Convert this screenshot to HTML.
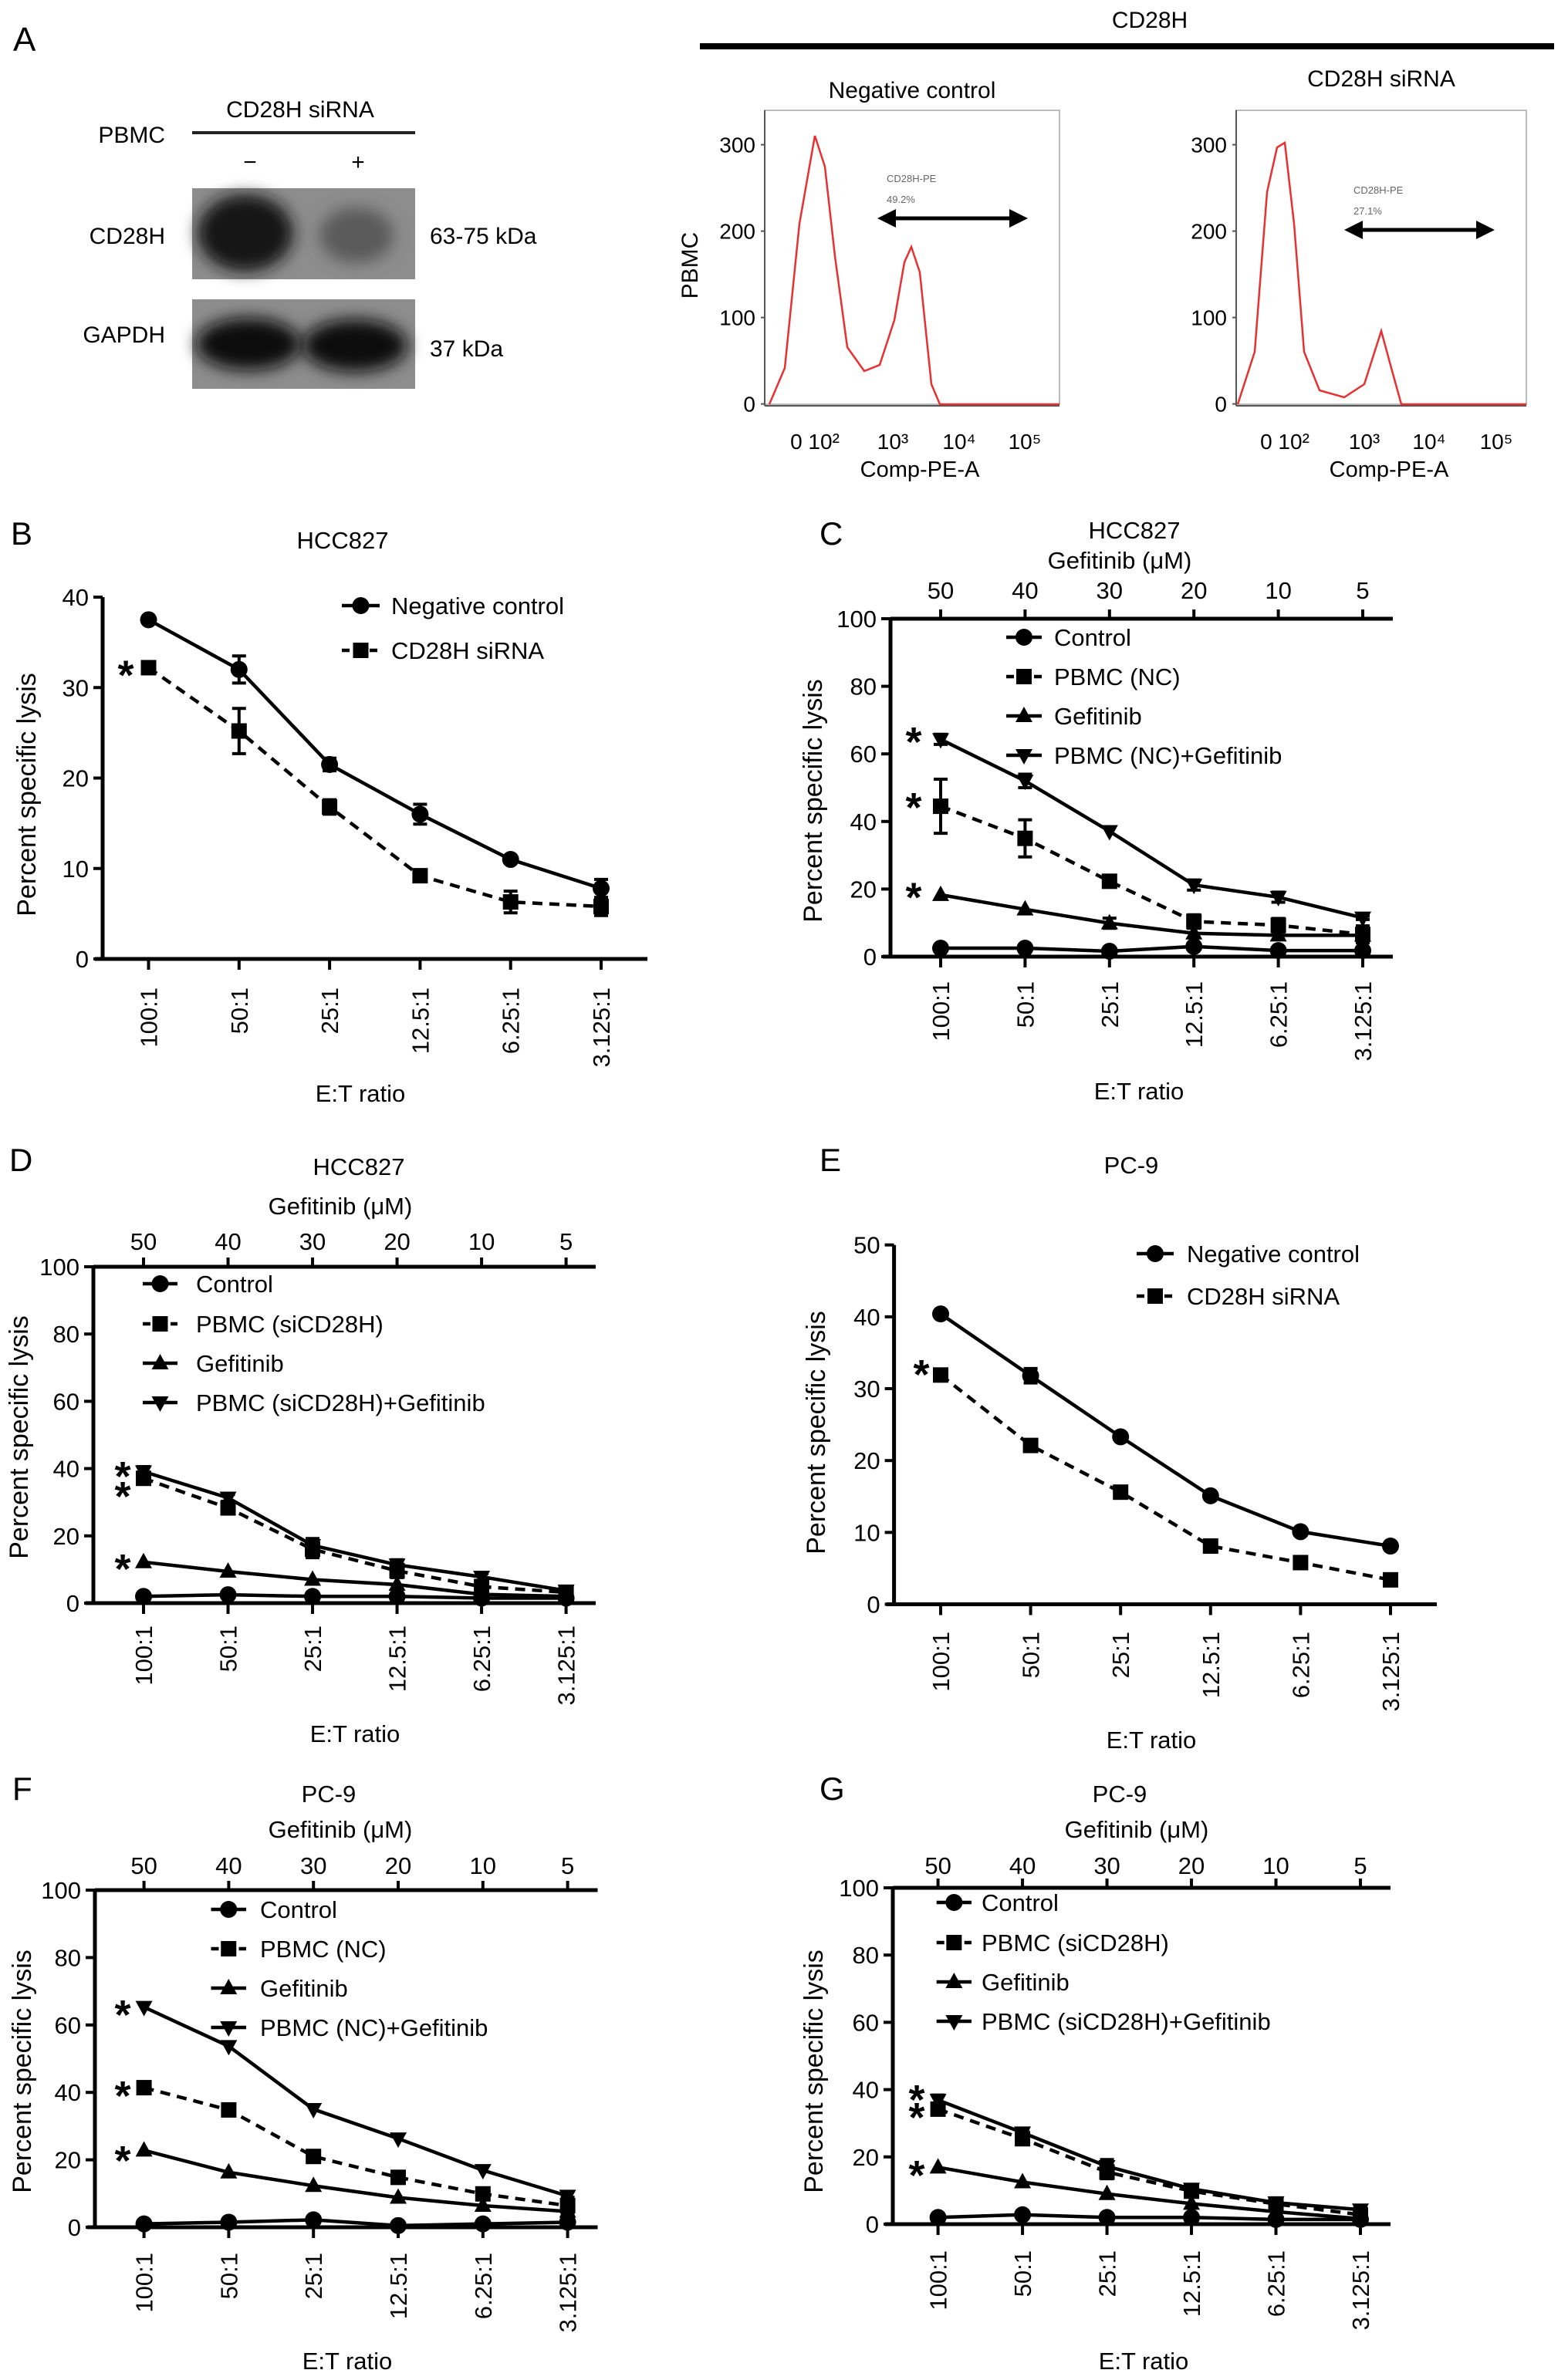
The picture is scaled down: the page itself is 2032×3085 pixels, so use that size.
<!DOCTYPE html>
<html><head><meta charset="utf-8">
<style>
html,body{margin:0;padding:0;background:#fff;}
svg{display:block;font-family:"Liberation Sans",sans-serif;}
</style></head>
<body>
<svg id="fig" xmlns="http://www.w3.org/2000/svg" width="2032" height="3085" viewBox="0 0 2032 3085">
<defs><filter id="blur" x="-50%" y="-50%" width="200%" height="200%"><feGaussianBlur stdDeviation="10"/></filter></defs>
<rect width="2032" height="3085" fill="#fff"/>
<!-- Panel A -->
<g>
<text x="17" y="66" font-size="44">A</text>
<text x="1490" y="36" font-size="30" text-anchor="middle">CD28H</text>
<rect x="907" y="56" width="1107" height="8" fill="#000"/>
<text x="389" y="152" font-size="30" text-anchor="middle">CD28H siRNA</text>
<line x1="249" y1="172" x2="538" y2="172" stroke="#222" stroke-width="4"/>
<text x="214" y="185" font-size="30" text-anchor="end">PBMC</text>
<text x="324" y="220" font-size="30" text-anchor="middle">−</text>
<text x="464" y="220" font-size="30" text-anchor="middle">+</text>
<g>
<rect x="249" y="244" width="289" height="118" fill="#8d8d8d"/>
<ellipse cx="318" cy="302" rx="62" ry="50" fill="#151515" filter="url(#blur)"/>
<ellipse cx="462" cy="305" rx="48" ry="36" fill="#5a5a5a" filter="url(#blur)"/>
</g>
<g>
<rect x="249" y="388" width="289" height="116" fill="#8d8d8d"/>
<ellipse cx="322" cy="446" rx="68" ry="34" fill="#111" filter="url(#blur)"/>
<ellipse cx="460" cy="448" rx="68" ry="34" fill="#111" filter="url(#blur)"/>
</g>
<text x="214" y="316" font-size="30" text-anchor="end">CD28H</text>
<text x="214" y="444" font-size="30" text-anchor="end">GAPDH</text>
<text x="557" y="316" font-size="30">63-75 kDa</text>
<text x="557" y="462" font-size="30">37 kDa</text>
</g>
<g id="flow"></g>
<g id="charts"></g>
</svg>
<script>
const NS='http://www.w3.org/2000/svg';
const svg=document.getElementById('fig');
function mk(tag,attrs,parent,txt){const e=document.createElementNS(NS,tag);for(const k in attrs)e.setAttribute(k,attrs[k]);if(txt!==undefined)e.textContent=txt;(parent||svg).appendChild(e);return e;}

// ---------- Flow cytometry (A) ----------
const flowYTicks=[0,100,200,300];
const flowXTicks=['0 10²','10³','10⁴','10⁵'];
const flowNC=[[997,524],[1017,477],[1036,290],[1056,176],[1069,216],[1082,332],[1098,450],[1120,481],[1140,473],[1159,415],[1172,340],[1181,320],[1192,353],[1207,498],[1218,524],[1373,524]];
const flowSi=[[1604,524],[1626,456],[1642,249],[1655,191],[1665,185],[1677,290],[1690,456],[1710,506],[1742,515],[1768,498],[1790,429],[1803,477],[1816,524],[1978,524]];
function flowPlot(name,x0,x1,title,titleY,xlabX,pts,arrX0,arrX1,arrY,pct,txtY){
  const g=mk('g',{},document.getElementById('flow'));
  
  
  mk('rect',{x:x0,y:143,width:x1-x0,height:381,fill:'none',stroke:'#bbb','stroke-width':2},g);
  mk('line',{x1:x0,y1:143,x2:x0,y2:526,stroke:'#555','stroke-width':2},g);
  mk('line',{x1:x0,y1:526,x2:x1,y2:526,stroke:'#555','stroke-width':2},g);
  flowYTicks.forEach(v=>{const y=523.6-v*1.12;mk('line',{x1:x0-5,y1:y,x2:x0,y2:y,stroke:'#555','stroke-width':2},g);mk('text',{x:x0-12,y:y+10,'font-size':28,'text-anchor':'end'},g,String(v));});
  flowXTicks.forEach((t,i)=>{mk('text',{x:xlabX[i],y:582,'font-size':28,'text-anchor':'middle'},g,t);});
  mk('text',{x:(x0+x1)/2+10,y:618,'font-size':29,'text-anchor':'middle'},g,'Comp-PE-A');
  mk('text',{x:(x0+x1)/2,y:titleY,'font-size':30,'text-anchor':'middle'},g,title);
  mk('polyline',{points:pts.map(p=>p.join(',')).join(' '),fill:'none',stroke:'#e83030','stroke-width':2.5},g);
  mk('line',{x1:arrX0+18,y1:arrY,x2:arrX1-18,y2:arrY,stroke:'#000','stroke-width':5},g);
  mk('polygon',{points:`${arrX0},${arrY} ${arrX0+24},${arrY-12} ${arrX0+24},${arrY+12}`,fill:'#000'},g);
  mk('polygon',{points:`${arrX1},${arrY} ${arrX1-24},${arrY-12} ${arrX1-24},${arrY+12}`,fill:'#000'},g);
  mk('text',{x:arrX0+12,y:txtY,'font-size':13,fill:'#666'},g,'CD28H-PE');
  mk('text',{x:arrX0+12,y:txtY+27,'font-size':13,fill:'#666'},g,pct);
}
flowPlot('flow-negative-control',991,1373,'Negative control',127,[1056,1157,1243,1328],flowNC,1137,1332,283,'49.2%',236);
flowPlot('flow-cd28h-sirna',1602,1978,'CD28H siRNA',112,[1665,1768,1852,1939],flowSi,1742,1937,298,'27.1%',251);
const pb=mk('text',{transform:'translate(904,344) rotate(-90)','font-size':30,'text-anchor':'middle'},undefined,'PBMC');



// ---------- Line charts data ----------
const etCategories=['100:1','50:1','25:1','12.5:1','6.25:1','3.125:1'];
const gefTicks=['50','40','30','20','10','5'];
const ticks40=[0,10,20,30,40];
const ticks50=[0,10,20,30,40,50];
const ticks100=[0,20,40,60,80,100];

const bNC=[37.5,32,21.5,16,11,7.8];
const bNCerr=[0,1.5,0.7,1.1,0,1];
const bSi=[32.2,25.2,16.8,9.2,6.3,5.8];
const bSiErr=[0,2.5,0.8,0,1.2,1];
const bStars=[32.3];

const cControl=[2.5,2.5,1.6,3,1.8,1.8];
const cPBMC=[44.5,35,22.3,10.4,9.3,6.6];
const cPBMCerr=[8,5.5,1.5,2,2,2.5];
const cGef=[18.3,14,9.9,6.9,6.3,6.3];
const cGefErr=[0,0,1.5,0,0,0];
const cCombo=[64.3,52,37.1,21.2,17.6,11.5];
const cComboErr=[1.5,2,0,1.5,1.5,0.5];
const cStars=[66,46.6,20];

const dControl=[2,2.5,2,2,1.5,1.5];
const dPBMC=[37.1,28.3,16,9.6,4.9,3.2];
const dPBMCerr=[1,1,2.5,2,1,1];
const dGef=[12.2,9.4,7,5.5,2.6,2];
const dCombo=[39.1,31.3,17.2,11.4,7.8,3.7];
const dComboErr=[1.5,1,2,1.5,1,1];
const dStars=[40.1,34.2,12.6];

const eNC=[40.4,31.8,23.3,15.1,10.1,8.1];
const eNCerr=[0,1,0,0,0,0];
const eSi=[31.9,22.1,15.6,8.1,5.8,3.4];
const eStars=[33.1];

const fControl=[1,1.5,2.2,0.5,1,1.5];
const fPBMC=[41.4,34.8,21,14.8,9.9,6.4];
const fPBMCerr=[1.5,0,1,0,1,2.5];
const fGef=[22.8,16.3,12.3,8.8,6.4,4.7];
const fCombo=[65.3,53.7,35,26.3,16.9,9.3];
const fStars=[65.4,41.4,22.2];

const gControl=[2,2.8,2,2,1.4,1.4];
const gPBMC=[34.2,25.4,15.5,9.8,6,2.8];
const gPBMCerr=[1,1,2,1,1,1];
const gGef=[16.9,12.5,9,6.1,3.7,1.6];
const gCombo=[36.9,27.2,17.2,10.5,6.4,4.3];
const gComboErr=[1.5,1,2,1,1,1];
const gStars=[39.4,34.2,17];

// ---------- drawing ----------
function marker(g,type,x,y,s){
  let e;
  if(type==='circle')e=mk('circle',{cx:x,cy:y,r:s*0.55,fill:'#000'},g);
  else if(type==='square')e=mk('rect',{x:x-s*0.5,y:y-s*0.5,width:s,height:s,fill:'#000'},g);
  else if(type==='tri')e=mk('polygon',{points:`${x},${y-s*0.6} ${x-s*0.55},${y+s*0.4} ${x+s*0.55},${y+s*0.4}`,fill:'#000'},g);
  else e=mk('polygon',{points:`${x},${y+s*0.6} ${x-s*0.55},${y-s*0.4} ${x+s*0.55},${y-s*0.4}`,fill:'#000'},g);
  return e;
}
function drawPanel(P){
  const g=mk('g',{},document.getElementById('charts'));
  
  
  const ymax=P.yTicks[P.yTicks.length-1];
  const yS=v=>P.y0-(v/ymax)*(P.y0-P.yTop);
  const xS=i=>P.xFirst+i*(P.xLast-P.xFirst)/(etCategories.length-1);
  const lab=mk('text',{x:P.labX,y:P.labY,'font-size':42},g,P.letter);
  
  
  P.titles.forEach(t=>{const e=mk('text',{x:t[0],y:t[1],'font-size':31,'text-anchor':'middle'},g,t[2]);
    
    });
  const ya=mk('line',{x1:P.ax,y1:P.y0+2,x2:P.ax,y2:P.yTop,stroke:'#000','stroke-width':5},g);
  
  
  const xa=mk('line',{x1:P.ax-10,y1:P.y0,x2:P.xEnd,y2:P.y0,stroke:'#000','stroke-width':5},g);
  
  
  P.yTicks.forEach(v=>{const y=yS(v);
    mk('line',{x1:P.ax-12,y1:y,x2:P.ax,y2:y,stroke:'#000','stroke-width':4},g);
    const t=mk('text',{x:P.ax-18,y:y+11,'font-size':31,'text-anchor':'end'},g,String(v));
    
    });
  etCategories.forEach((c,i)=>{const x=xS(i);
    mk('line',{x1:x,y1:P.y0,x2:x,y2:P.y0+14,stroke:'#000','stroke-width':4},g);
    const t=mk('text',{transform:`translate(${x+11},${P.tickEnd}) rotate(-90)`,'font-size':31,'text-anchor':'end'},g,c);
    
    });
  if(P.top){
    mk('line',{x1:P.ax,y1:P.yTop,x2:P.xEnd,y2:P.yTop,stroke:'#000','stroke-width':5},g);
    gefTicks.forEach((c,i)=>{const x=xS(i);
      mk('line',{x1:x,y1:P.yTop,x2:x,y2:P.yTop-12,stroke:'#000','stroke-width':4},g);
      const t=mk('text',{x:x,y:P.topLabY,'font-size':31,'text-anchor':'middle'},g,c);
      
      });
  }
  const yl=mk('text',{transform:`translate(${P.ylX},${P.ylY}) rotate(-90)`,'font-size':34,'text-anchor':'middle'},g,'Percent specific lysis');
  
  
  const xl=mk('text',{x:P.xlX,y:P.xlY,'font-size':31,'text-anchor':'middle'},g,'E:T ratio');
  
  
  P.series.forEach((s,si)=>{
    const sg=mk('g',{},g);
    
    
    const pts=s.vals.map((v,i)=>xS(i)+','+yS(v)).join(' ');
    const ln=mk('polyline',{points:pts,fill:'none',stroke:'#000','stroke-width':4.5,'stroke-dasharray':s.dash?'13,9':'none'},sg);
    
    
    s.vals.forEach((v,i)=>{
      const x=xS(i),y=yS(v);
      if(s.errs&&s.errs[i]>0){
        const e1=yS(v+s.errs[i]),e2=yS(v-s.errs[i]);
        mk('line',{x1:x,y1:e1,x2:x,y2:e2,stroke:'#000','stroke-width':4},sg);
        mk('line',{x1:x-9,y1:e1,x2:x+9,y2:e1,stroke:'#000','stroke-width':4},sg);
        mk('line',{x1:x-9,y1:e2,x2:x+9,y2:e2,stroke:'#000','stroke-width':4},sg);
      }
      const m=marker(sg,s.marker,x,y,20);
      
      
    });
    const ly=P.legY[si];
    const lg=mk('g',{},g);
    
    
    mk('line',{x1:P.legX0,y1:ly,x2:P.legX1,y2:ly,stroke:'#000','stroke-width':4.5,'stroke-dasharray':s.dash?'10,8':'none'},lg);
    marker(lg,s.marker,(P.legX0+P.legX1)/2,ly,20);
    mk('text',{x:P.legTX,y:ly+11,'font-size':31},lg,s.label);
  });
  P.stars.forEach(v=>{const t=mk('text',{x:P.starX,y:yS(v)+29,'font-size':54,'font-weight':'bold','text-anchor':'middle'},g,'*');
    
    });
}

drawPanel({name:'panel-b',letter:'B',labX:14,labY:706,titles:[[444,711,'HCC827']],ax:133,y0:1243,yTop:774,yTicks:ticks40,
  xFirst:192.5,xLast:779,xEnd:839,tickEnd:1280,ylX:46,ylY:1030,xlX:467,xlY:1428,top:false,
  legX0:443,legX1:492,legTX:507,legY:[785,843],starX:163,stars:bStars,
  series:[{key:'negative-control',label:'Negative control',vals:bNC,errs:bNCerr,marker:'circle',dash:false},
          {key:'cd28h-sirna',label:'CD28H siRNA',vals:bSi,errs:bSiErr,marker:'square',dash:true}]});

drawPanel({name:'panel-c',letter:'C',labX:1062,labY:706,titles:[[1470,698,'HCC827'],[1451,737,'Gefitinib (μM)']],ax:1154,y0:1240,yTop:802,yTicks:ticks100,
  xFirst:1219,xLast:1766,xEnd:1805,tickEnd:1272,ylX:1065,ylY:1038,xlX:1476,xlY:1425,top:true,topLabY:776,
  legX0:1304,legX1:1350,legTX:1366,legY:[826,877,928,979],starX:1184,stars:cStars,
  series:[{key:'control',label:'Control',vals:cControl,marker:'circle',dash:false},
          {key:'pbmc-nc',label:'PBMC (NC)',vals:cPBMC,errs:cPBMCerr,marker:'square',dash:true},
          {key:'gefitinib',label:'Gefitinib',vals:cGef,errs:cGefErr,marker:'tri',dash:false},
          {key:'pbmc-nc-gefitinib',label:'PBMC (NC)+Gefitinib',vals:cCombo,errs:cComboErr,marker:'inv',dash:false}]});

drawPanel({name:'panel-d',letter:'D',labX:12,labY:1518,titles:[[465,1523,'HCC827'],[441,1574,'Gefitinib (μM)']],ax:121,y0:2078,yTop:1642,yTicks:ticks100,
  xFirst:186,xLast:733.6,xEnd:772,tickEnd:2107,ylX:36,ylY:1863,xlX:460,xlY:2258,top:true,topLabY:1620,
  legX0:185,legX1:230,legTX:254,legY:[1664,1716,1767,1818],starX:159,stars:dStars,
  series:[{key:'control',label:'Control',vals:dControl,marker:'circle',dash:false},
          {key:'pbmc-sicd28h',label:'PBMC (siCD28H)',vals:dPBMC,errs:dPBMCerr,marker:'square',dash:true},
          {key:'gefitinib',label:'Gefitinib',vals:dGef,marker:'tri',dash:false},
          {key:'pbmc-sicd28h-gefitinib',label:'PBMC (siCD28H)+Gefitinib',vals:dCombo,errs:dComboErr,marker:'inv',dash:false}]});

drawPanel({name:'panel-e',letter:'E',labX:1062,labY:1518,titles:[[1466,1521,'PC-9']],ax:1158.6,y0:2079.5,yTop:1613.7,yTicks:ticks50,
  xFirst:1219,xLast:1802,xEnd:1862,tickEnd:2115,ylX:1069,ylY:1857,xlX:1492,xlY:2266,top:false,
  legX0:1473,legX1:1521,legTX:1538,legY:[1625,1680],starX:1194,stars:eStars,
  series:[{key:'negative-control',label:'Negative control',vals:eNC,errs:eNCerr,marker:'circle',dash:false},
          {key:'cd28h-sirna',label:'CD28H siRNA',vals:eSi,marker:'square',dash:true}]});

drawPanel({name:'panel-f',letter:'F',labX:16,labY:2333,titles:[[426,2336,'PC-9'],[441,2382,'Gefitinib (μM)']],ax:123,y0:2887,yTop:2450,yTicks:ticks100,
  xFirst:186.6,xLast:735.6,xEnd:774.5,tickEnd:2920,ylX:40,ylY:2685,xlX:450,xlY:3071,top:true,topLabY:2429,
  legX0:273.5,legX1:319,legTX:337,legY:[2475,2526,2577,2628],starX:159,stars:fStars,
  series:[{key:'control',label:'Control',vals:fControl,marker:'circle',dash:false},
          {key:'pbmc-nc',label:'PBMC (NC)',vals:fPBMC,errs:fPBMCerr,marker:'square',dash:true},
          {key:'gefitinib',label:'Gefitinib',vals:fGef,marker:'tri',dash:false},
          {key:'pbmc-nc-gefitinib',label:'PBMC (NC)+Gefitinib',vals:fCombo,marker:'inv',dash:false}]});

drawPanel({name:'panel-g',letter:'G',labX:1062,labY:2333,titles:[[1451,2336,'PC-9'],[1473,2382,'Gefitinib (μM)']],ax:1157,y0:2883,yTop:2447,yTicks:ticks100,
  xFirst:1215.6,xLast:1763,xEnd:1802,tickEnd:2917,ylX:1066,ylY:2685,xlX:1482,xlY:3071,top:true,topLabY:2429,
  legX0:1213.7,legX1:1259,legTX:1272,legY:[2466,2518,2569,2620],starX:1188,stars:gStars,
  series:[{key:'control',label:'Control',vals:gControl,marker:'circle',dash:false},
          {key:'pbmc-sicd28h',label:'PBMC (siCD28H)',vals:gPBMC,errs:gPBMCerr,marker:'square',dash:true},
          {key:'gefitinib',label:'Gefitinib',vals:gGef,marker:'tri',dash:false},
          {key:'pbmc-sicd28h-gefitinib',label:'PBMC (siCD28H)+Gefitinib',vals:gCombo,errs:gComboErr,marker:'inv',dash:false}]});
</script>
</body></html>
